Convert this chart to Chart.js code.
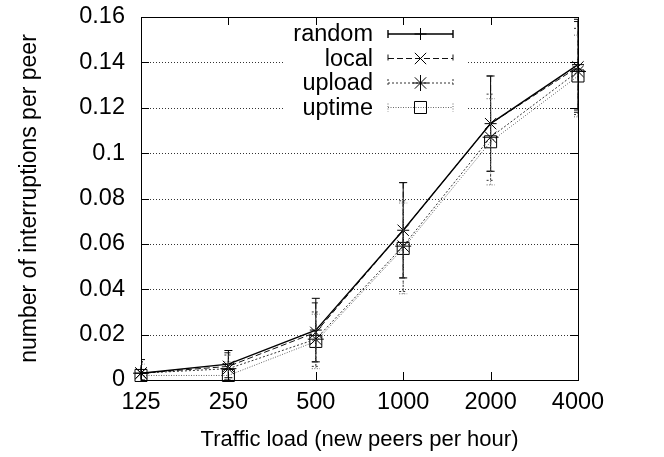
<!DOCTYPE html>
<html>
<head>
<meta charset="utf-8">
<script src="https://cdn.jsdelivr.net/npm/chart.js@4/dist/chart.umd.min.js"></script>
<style>
  html, body { margin: 0; padding: 0; background: #fff; }
</style>
</head>
<body>
<canvas id="myChart" width="664" height="457"></canvas>
<script>
// traffic load categories (new peers per hour), log2 spaced
var loads = ['125', '250', '500', '1000', '2000', '4000'];

// mean interruptions per peer
var randomVals = [0.003, 0.007, 0.022, 0.066, 0.113, 0.139];
var localVals  = [0.003, 0.006, 0.021, 0.066, 0.113, 0.138];
var uploadVals = [0.003, 0.005, 0.018, 0.059, 0.107, 0.136];
var uptimeVals = [0.002, 0.002, 0.017, 0.058, 0.105, 0.134];

// error bar half widths
var randomErr = [0.006, 0.006, 0.014, 0.021, 0.021, 0.020];
var localErr  = [0.005, 0.006, 0.013, 0.021, 0.021, 0.020];
var uploadErr = [0.005, 0.006, 0.012, 0.020, 0.019, 0.019];
var uptimeErr = [0.005, 0.006, 0.012, 0.020, 0.019, 0.018];

var yTicks = [0, 0.02, 0.04, 0.06, 0.08, 0.1, 0.12, 0.14, 0.16];

var FONT = 'Liberation Sans, Arial, Helvetica, sans-serif';

function series(label, vals, errs, color, dash, width, style, radius) {
  return {
    label: label,
    data: vals,
    errors: errs,
    borderColor: color,
    borderWidth: width,
    borderDash: dash,
    pointStyle: style,
    pointRadius: radius,
    pointBorderColor: '#000',
    pointBackgroundColor: 'rgba(0,0,0,0)',
    pointBorderWidth: 1,
    tension: 0, // straight segments like gnuplot
    fill: false,
    clip: false
  };
}

// gnuplot style: dotted grid, error bars, frame with inward ticks, key box
var gnuplotLook = {
  id: 'gnuplotLook',
  beforeDatasetsDraw: function (chart) {
    var ctx = chart.ctx, a = chart.chartArea, ys = chart.scales.y;
    ctx.save();
    ctx.strokeStyle = '#333';
    ctx.lineWidth = 1;
    ctx.setLineDash([1, 2]);
    ctx.beginPath();
    yTicks.slice(1, -1).forEach(function (t) {
      var y = Math.round(ys.getPixelForValue(t)) + 0.5;
      ctx.moveTo(a.left, y); ctx.lineTo(a.right, y);
    });
    ctx.stroke();
    ctx.fillStyle = '#fff';
    ctx.fillRect(a.left + 144, a.top + 1, 182, 104);
    ctx.restore();
  },
  afterDatasetsDraw: function (chart) {
    var ctx = chart.ctx, a = chart.chartArea;
    var xs = chart.scales.x, ys = chart.scales.y;

    // error bars
    ctx.save();
    ctx.beginPath();
    ctx.rect(a.left, a.top, a.right - a.left, a.bottom - a.top);
    ctx.clip();
    chart.data.datasets.forEach(function (ds) {
      ctx.strokeStyle = ds.borderColor;
      ctx.lineWidth = 1;
      ctx.setLineDash(ds.borderDash || []);
      ds.data.forEach(function (v, i) {
        var x = xs.getPixelForValue(i);
        var y1 = ys.getPixelForValue(v + ds.errors[i]);
        var y2 = ys.getPixelForValue(Math.max(v - ds.errors[i], 0));
        ctx.beginPath();
        ctx.moveTo(x, y1); ctx.lineTo(x, y2);
        ctx.moveTo(x - 4, y1); ctx.lineTo(x + 4, y1);
        ctx.moveTo(x - 4, y2); ctx.lineTo(x + 4, y2);
        ctx.stroke();
      });
    });
    ctx.restore();

    // frame and inward ticks
    ctx.save();
    ctx.strokeStyle = '#000';
    ctx.lineWidth = 1;
    ctx.strokeRect(a.left + 0.5, a.top + 0.5, a.right - a.left, a.bottom - a.top);
    ctx.beginPath();
    yTicks.forEach(function (t) {
      var y = Math.round(ys.getPixelForValue(t)) + 0.5;
      ctx.moveTo(a.left, y); ctx.lineTo(a.left + 8, y);
      ctx.moveTo(a.right, y); ctx.lineTo(a.right - 8, y);
    });
    loads.forEach(function (l, i) {
      var x = Math.round(xs.getPixelForValue(i)) + 0.5;
      ctx.moveTo(x, a.bottom); ctx.lineTo(x, a.bottom - 8);
      ctx.moveTo(x, a.top); ctx.lineTo(x, a.top + 8);
    });
    ctx.stroke();
    ctx.restore();

    // key
    ctx.save();
    ctx.font = '23.5px ' + FONT;
    ctx.textAlign = 'right';
    ctx.textBaseline = 'middle';
    chart.data.datasets.forEach(function (ds, i) {
      var y = a.top + 17 + i * 24.5;
      var x0 = a.left + 247, x1 = a.left + 312, xm = (x0 + x1) / 2;
      ctx.fillStyle = '#000';
      ctx.fillText(ds.label, a.left + 232, y + 1);
      ctx.strokeStyle = ds.borderColor;
      ctx.lineWidth = ds.borderWidth;
      ctx.setLineDash(ds.borderDash || []);
      ctx.beginPath();
      ctx.moveTo(x0, y); ctx.lineTo(x1, y);
      ctx.moveTo(x0, y - 4); ctx.lineTo(x0, y + 4);
      ctx.moveTo(x1, y - 4); ctx.lineTo(x1, y + 4);
      ctx.stroke();
      ctx.setLineDash([]);
      if (Chart.helpers && Chart.helpers.drawPoint) {
        ctx.strokeStyle = '#000';
        ctx.fillStyle = 'rgba(0,0,0,0)';
        ctx.lineWidth = 1;
        Chart.helpers.drawPoint(ctx, {
          pointStyle: ds.pointStyle, radius: ds.pointRadius, rotation: 0, borderWidth: 1
        }, xm, y);
      }
    });
    ctx.restore();
  }
};

var ctx = document.getElementById('myChart').getContext('2d');
var chart = new Chart(ctx, {
  type: 'line',
  data: {
    labels: loads,
    datasets: [
      series('random', randomVals, randomErr, '#000', [], 1.4, 'cross', 6),
      series('local', localVals, localErr, '#111', [6, 3], 1, 'crossRot', 8),
      series('upload', uploadVals, uploadErr, '#333', [2, 2], 1, 'star', 8),
      series('uptime', uptimeVals, uptimeErr, '#666', [1, 1.5], 1, 'rect', 8.5)
    ]
  },
  options: {
    responsive: false,
    animation: false,
    layout: { padding: { left: 0, right: 86, top: 17, bottom: 0 } },
    plugins: {
      legend: { display: false },
      tooltip: { enabled: false }
    },
    scales: {
      x: {
        type: 'category',
        offset: false,
        grid: { display: false, drawTicks: false },
        border: { display: false },
        ticks: {
          autoSkip: false, maxRotation: 0, padding: 8, color: '#000',
          font: { family: FONT, size: 23.5 }
        },
        title: {
          display: true, text: 'Traffic load (new peers per hour)', color: '#000',
          font: { family: FONT, size: 22 }, padding: { top: 0, bottom: 4 }
        },
        afterFit: function (s) { s.height = 77; }
      },
      y: {
        min: 0, max: 0.16,
        afterBuildTicks: function (s) {
          s.ticks = yTicks.map(function (v) { return { value: v }; });
        },
        grid: { display: false, drawTicks: false },
        border: { display: false },
        ticks: {
          padding: 16, color: '#000',
          font: { family: FONT, size: 23.5 },
          callback: function (v) { return String(+v.toFixed(2)); }
        },
        title: {
          display: true, text: 'number of interruptions per peer', color: '#000',
          font: { family: FONT, size: 23 }, padding: { top: 16, bottom: 0 }
        },
        afterFit: function (s) {
          s.width = 141;
          s.paddingTop = 0;
          s.paddingBottom = 0;
        }
      }
    }
  },
  plugins: [gnuplotLook]
});
</script>
</body>
</html>
